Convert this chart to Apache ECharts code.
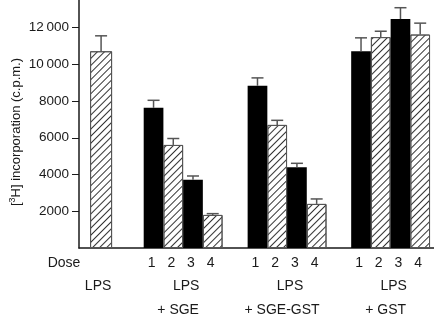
<!DOCTYPE html>
<html>
<head>
<meta charset="utf-8">
<script src="https://cdn.jsdelivr.net/npm/echarts@6/dist/echarts.min.js"></script>
<style>
html, body { margin: 0; padding: 0; background: #fff; }
#chart { width: 434px; height: 318px; }
</style>
</head>
<body>
<div id="chart"></div>
<script>
// data
var groupLine1 = ['LPS', 'LPS', 'LPS', 'LPS'];
var groupLine2 = ['', '+ SGE', '+ SGE-GST', '+ GST'];
var doses = ['1', '2', '3', '4'];
var yTicks = [2000, 4000, 6000, 8000, 10000, 12000];

var lpsValue = [10710];
var lpsErr = [840];
var sgeValues = [7630, 5610, 3710, 1800];
var sgeErr = [410, 350, 210, 70];
var sgeGstValues = [8830, 6700, 4390, 2400];
var sgeGstErr = [430, 250, 220, 270];
var gstValues = [10710, 11480, 12460, 11620];
var gstErr = [730, 320, 620, 620];

// layout (x in bar-slot units)
var lpsX = 1.12;
var groupStart = [3.78, 9.05, 14.3];
var inkColor = '#1a1a1a';
var fontFamily = '"Liberation Sans", Arial, sans-serif';
var font = '14px ' + fontFamily;

var hatch = {
    symbol: 'rect',
    symbolSize: 1,
    color: '#333',
    dashArrayX: [1, 0],
    dashArrayY: [1, 4],
    rotation: -Math.PI / 4
};
var hatchStyle = { color: '#fff', borderColor: '#555', borderWidth: 1, decal: hatch };
var blackStyle = { color: '#000', borderWidth: 0 };

var doseGroups = [sgeValues, sgeGstValues, gstValues];
var doseErrs = [sgeErr, sgeGstErr, gstErr];

var barData = [];
var errData = [[lpsX, lpsValue[0], lpsValue[0] + lpsErr[0]]];
var labels = [];   // {x, dx, dy, text}

labels.push({ x: 0, dx: -15, dy: 15, text: 'Dose' });
labels.push({ x: lpsX, dx: -3, dy: 38, text: groupLine1[0] });

doseGroups.forEach(function (vals, g) {
    vals.forEach(function (v, i) {
        var x = groupStart[g] + i;
        barData.push({ value: [x, v], itemStyle: i % 2 === 0 ? blackStyle : hatchStyle });
        errData.push([x, v, v + doseErrs[g][i]]);
        labels.push({ x: x, dx: -2, dy: 15, text: doses[i] });
    });
    var mid = groupStart[g] + 1.5;
    labels.push({ x: mid, dx: 3, dy: 38, text: groupLine1[g + 1] });
    labels.push({ x: mid, dx: -5, dy: 62, text: groupLine2[g + 1] });
});

var myChart = echarts.init(document.getElementById('chart'));
var option = {
    animation: false,
    grid: {
        left: 79,
        right: 0,
        top: 0,
        bottom: 70,
        containLabel: false,
        outerBoundsMode: 'none'
    },
    xAxis: [
        {
            type: 'value',
            min: 0,
            max: 18,
            axisLine: { show: true, lineStyle: { color: inkColor, width: 1.5 } },
            axisTick: { show: false },
            axisLabel: { show: false },
            splitLine: { show: false }
        },
        {
            type: 'value',
            min: 0,
            max: 18,
            show: false
        }
    ],
    yAxis: {
        type: 'value',
        min: 0,
        max: 13500,
        axisLine: { show: true, lineStyle: { color: inkColor, width: 1.5 } },
        axisTick: {
            show: true,
            length: 7,
            customValues: yTicks,
            lineStyle: { color: inkColor, width: 1 }
        },
        axisLabel: {
            margin: 10,
            customValues: yTicks,
            color: inkColor,
            fontSize: 13.5,
            fontFamily: fontFamily,
            formatter: function (v) {
                if (v >= 10000) {
                    var s = String(v);
                    return s.slice(0, s.length - 3) + '\u2009' + s.slice(-3);
                }
                return String(v);
            }
        },
        splitLine: { show: false }
    },
    graphic: [
        {
            type: 'text',
            x: 16,
            y: 132,
            rotation: Math.PI / 2,
            style: {
                text: '[{sup|3}H] incorporation (c.p.m.)',
                font: '13px ' + fontFamily,
                fill: inkColor,
                align: 'center',
                verticalAlign: 'middle',
                rich: {
                    sup: { fontSize: 9, verticalAlign: 'top', padding: [0, 0, 6, 0], fill: inkColor }
                }
            }
        }
    ],
    series: [
        {
            name: 'lps',
            type: 'bar',
            xAxisIndex: 1,
            barWidth: 22,
            itemStyle: hatchStyle,
            data: [[lpsX, lpsValue[0]]]
        },
        {
            name: 'dose',
            type: 'bar',
            xAxisIndex: 0,
            barWidth: 19.7,
            data: barData
        },
        {
            name: 'err',
            type: 'custom',
            xAxisIndex: 0,
            z: 5,
            data: errData,
            renderItem: function (params, api) {
                var base = api.coord([api.value(0), api.value(1)]);
                var top = api.coord([api.value(0), api.value(2)]);
                var st = { stroke: '#555', lineWidth: 1.5 };
                return {
                    type: 'group',
                    children: [
                        { type: 'line', shape: { x1: base[0], y1: base[1], x2: top[0], y2: top[1] }, style: st },
                        { type: 'line', shape: { x1: top[0] - 6, y1: top[1], x2: top[0] + 6, y2: top[1] }, style: st }
                    ]
                };
            }
        },
        {
            name: 'labels',
            type: 'custom',
            xAxisIndex: 0,
            clip: false,
            silent: true,
            data: labels.map(function (l) { return [l.x, 0]; }),
            renderItem: function (params, api) {
                var l = labels[params.dataIndex];
                var p = api.coord([api.value(0), 0]);
                return {
                    type: 'text',
                    x: p[0] + l.dx,
                    y: p[1] + l.dy,
                    style: {
                        text: l.text,
                        font: font,
                        fill: inkColor,
                        align: 'center',
                        verticalAlign: 'middle'
                    }
                };
            }
        }
    ]
};
myChart.setOption(option);
</script>
</body>
</html>
